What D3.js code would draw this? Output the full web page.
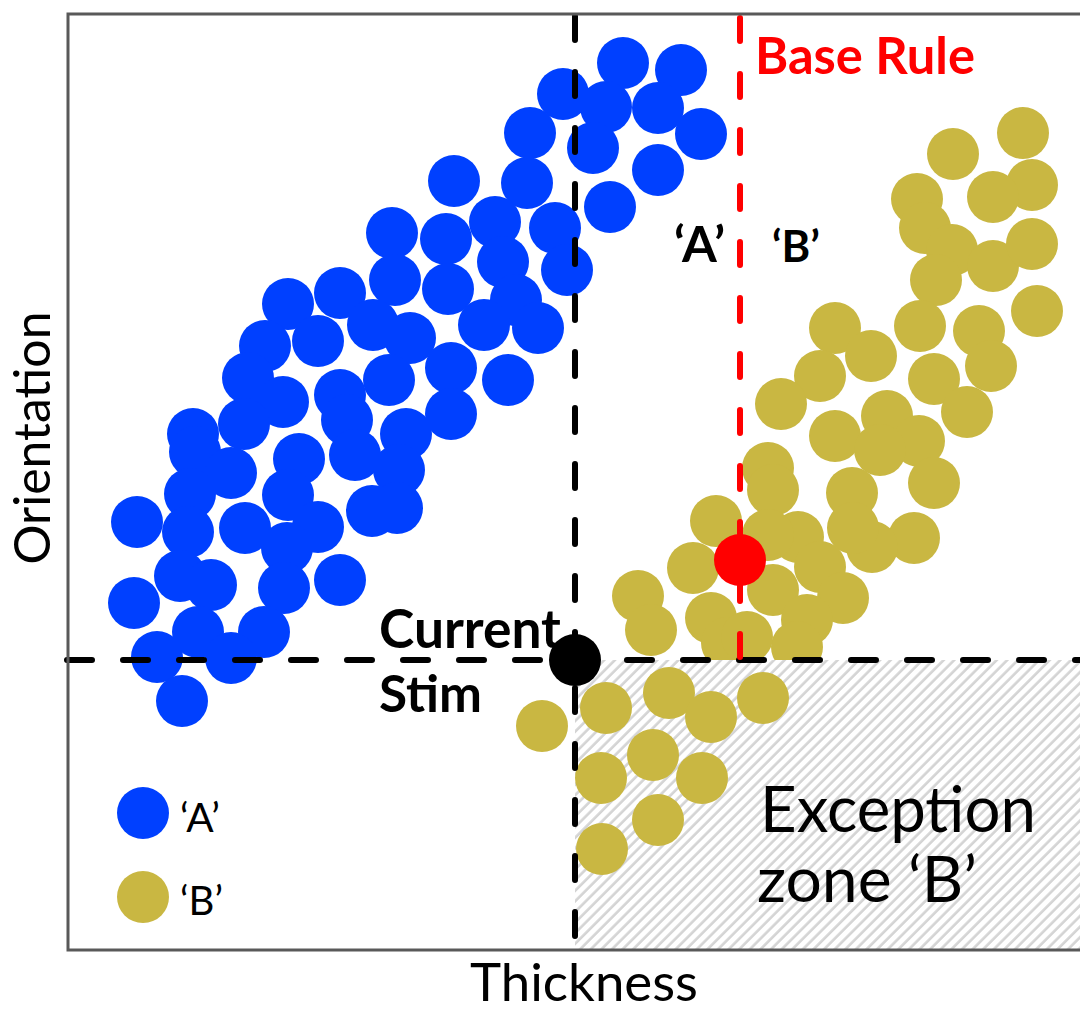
<!DOCTYPE html>
<html>
<head>
<meta charset="utf-8">
<script src="https://cdn.jsdelivr.net/npm/d3@7"></script>
<style>
  body { margin: 0; background: #fff; }
  svg { display: block; }
</style>
</head>
<body>
<div id="chart"></div>
<script>
// Category exemplars: [thickness, orientation]
const seriesA = [
  [555,887],[613,880],[495,856],[538,843],[590,842],[633,816],[462,817],[525,802],
  [590,780],[459,767],[542,743],[487,722],[499,680],[386,769],[427,728],[324,717],
  [378,711],[435,688],[327,670],[380,661],[448,650],[220,646],[272,657],[305,625],
  [342,612],[416,625],[470,622],[197,604],[250,609],[180,572],[321,570],[383,582],
  [440,570],[272,555],[215,548],[176,526],[383,536],[338,516],[279,530],[287,495],
  [125,516],[127,498],[163,477],[331,480],[231,491],[122,456],[69,428],[120,418],
  [177,422],[220,455],[250,423],[304,439],[329,442],[219,402],[216,362],[272,370],
  [66,347],[112,374],[143,365],[130,318],[196,318],[89,293],[163,292],[114,249]
];
const seriesB = [
  [885,796],[955,817],[964,765],[925,753],[849,751],[857,722],[884,700],[925,684],
  [964,706],[868,670],[852,624],[911,619],[969,639],[923,584],[866,571],[899,538],
  [767,622],[803,594],[752,574],[713,546],[819,534],[767,514],[851,509],[812,500],
  [866,467],[784,457],[700,482],[705,460],[846,412],[804,403],[785,422],[730,413],
  [700,415],[648,429],[625,382],[570,354],[583,320],[643,332],[659,307],[705,360],
  [752,383],[775,352],[739,330],[729,303],[679,313]
];
// 'B' exemplars inside the exception zone
const seriesBException = [
  [474,224],[538,242],[601,257],[643,233],[695,252],[585,195],[533,172],[634,172],
  [590,130],[534,101]
];
const currentStim = [507, 290];
const probeStim = [672, 390];
const baseRuleX = 672;
const legendLabels = ["\u2018A\u2019", "\u2018B\u2019"];

const width = 1080, height = 1012;
const margin = { top: 14, right: 0, bottom: 62, left: 68 };
const blue = "#0040ff", olive = "#c9b742", red = "#ff0000";
const r = 26;

const svg = d3.select("#chart").append("svg")
  .attr("width", width)
  .attr("height", height);

const x = d3.scaleLinear().domain([0, 1012]).range([margin.left, width - margin.right]);
const y = d3.scaleLinear().domain([0, 936]).range([height - margin.bottom, margin.top]);

const defs = svg.append("defs");
const pat = defs.append("pattern")
  .attr("id", "hatch")
  .attr("patternUnits", "userSpaceOnUse")
  .attr("width", 7.5)
  .attr("height", 7.5)
  .attr("patternTransform", "rotate(45)");
pat.append("rect").attr("width", 7.5).attr("height", 7.5).attr("fill", "#fff");
pat.append("line")
  .attr("x1", 1.5).attr("y1", 0).attr("x2", 1.5).attr("y2", 7.5)
  .attr("stroke", "#d4d4d4").attr("stroke-width", 2.6);

function dots(data, color) {
  svg.append("g").selectAll("circle")
    .data(data)
    .join("circle")
    .attr("cx", d => x(d[0]))
    .attr("cy", d => y(d[1]))
    .attr("r", r)
    .attr("fill", color);
}

dots(seriesA, blue);
dots(seriesB, olive);
dots([probeStim], red);

// exception zone covers the upper cluster below the stim line
svg.append("rect")
  .attr("x", x(currentStim[0]))
  .attr("y", y(currentStim[1]))
  .attr("width", x.range()[1] + 10 - x(currentStim[0]))
  .attr("height", y(0) - y(currentStim[1]))
  .attr("fill", "url(#hatch)");

dots(seriesBException, olive);

// dashed rule lines
svg.append("line")
  .attr("x1", x(0) - 1).attr("x2", width + 5)
  .attr("y1", y(currentStim[1])).attr("y2", y(currentStim[1]))
  .attr("stroke", "#000").attr("stroke-width", 6)
  .attr("stroke-dasharray", "25,31").attr("stroke-linecap", "round");

svg.append("line")
  .attr("x1", x(currentStim[0])).attr("x2", x(currentStim[0]))
  .attr("y1", y(936) + 2).attr("y2", y(0))
  .attr("stroke", "#000").attr("stroke-width", 6)
  .attr("stroke-dasharray", "24,32").attr("stroke-linecap", "round");

svg.append("line")
  .attr("x1", x(baseRuleX)).attr("x2", x(baseRuleX))
  .attr("y1", y(936) + 4).attr("y2", y(currentStim[1]) - 3)
  .attr("stroke", red).attr("stroke-width", 6)
  .attr("stroke-dasharray", "23,33").attr("stroke-linecap", "round");

svg.append("circle")
  .attr("cx", x(currentStim[0]))
  .attr("cy", y(currentStim[1]))
  .attr("r", r)
  .attr("fill", "#000");

// frame
svg.append("rect")
  .attr("x", x(0)).attr("y", y(936))
  .attr("width", width)
  .attr("height", y(0) - y(936))
  .attr("fill", "none")
  .attr("stroke", "#595959")
  .attr("stroke-width", 3);

// fit text width to the reference
function label(str, px, py, fw, family, size, color, w) {
  const t = svg.append("text")
    .attr("x", px).attr("y", py)
    .attr("font-family", family)
    .attr("font-weight", fw)
    .attr("font-size", size)
    .attr("fill", color)
    .text(str);
  if (w) {
    const len = t.node().getComputedTextLength();
    t.attr("font-size", size * w / len);
  }
  return t;
}

const hum = "Lato, 'Open Sans', sans-serif";

label("Base Rule", 755, 74, "bold", hum, 44, red, 220);
label(legendLabels[0], 674, 262, "bold", hum, 36, "#000", 51);
label(legendLabels[1], 772, 262, "bold", hum, 36, "#000", 48);
label("Current", 379, 648, "bold", hum, 50, "#000", 182);
label("Stim", 379, 712, "bold", hum, 50, "#000", 103);
label("Exception", 760, 832, "normal", hum, 56, "#000", 276);
label("zone \u2018B\u2019", 757, 902, "normal", hum, 56, "#000", 220);
label("Thickness", 470, 1001, "normal", hum, 46, "#000", 228);

svg.append("text")
  .attr("transform", "translate(50,438) rotate(-90)")
  .attr("text-anchor", "middle")
  .attr("font-family", hum)
  .attr("font-size", 50)
  .attr("fill", "#000")
  .text("Orientation");

// legend
const legend = svg.append("g");
[blue, olive].forEach((c, i) => {
  legend.append("circle")
    .attr("cx", 143).attr("cy", 813 + i * 84)
    .attr("r", r).attr("fill", c);
  label(legendLabels[i], 180, 832 + i * 83, "normal", hum, 38, "#000", i === 0 ? 40 : 43);
});
</script>
</body>
</html>
